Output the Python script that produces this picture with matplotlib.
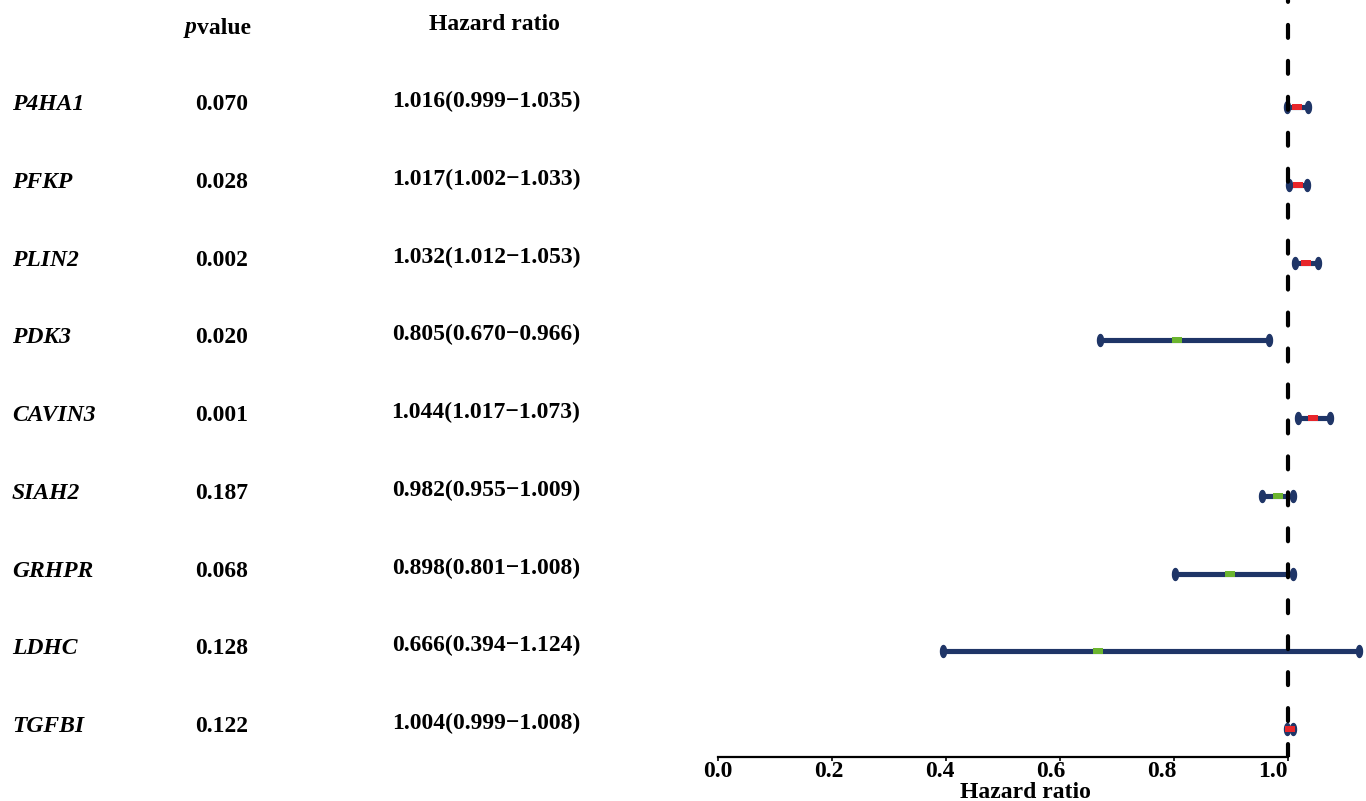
import numpy as np
import matplotlib
matplotlib.use("Agg")
import matplotlib.pyplot as plt
from matplotlib.path import Path
from matplotlib import transforms

plt.rcParams["font.family"] = ["Liberation Serif", "DejaVu Serif"]
plt.rcParams["font.weight"] = "bold"

# Univariate Cox results per gene
genes = ["P4HA1", "PFKP", "PLIN2", "PDK3", "CAVIN3", "SIAH2", "GRHPR", "LDHC", "TGFBI"]
pvalues = ["0.070", "0.028", "0.002", "0.020", "0.001", "0.187", "0.068", "0.128", "0.122"]
hr = [1.016, 1.017, 1.032, 0.805, 1.044, 0.982, 0.898, 0.666, 1.004]
hr_low = [0.999, 1.002, 1.012, 0.670, 1.017, 0.955, 0.801, 0.394, 0.999]
hr_high = [1.035, 1.033, 1.053, 0.966, 1.073, 1.009, 1.008, 1.124, 1.008]
xticks = [0.0, 0.2, 0.4, 0.6, 0.8, 1.0]

W, H = 1366, 801
fig = plt.figure(figsize=(W / 100, H / 100), dpi=100)

# axes geometry in pixels
ax_left_px, ax_right_px = 718, W
ax_top_px, ax_bottom_px = 0, 757
ax = fig.add_axes([ax_left_px / W, 1 - ax_bottom_px / H,
                   (ax_right_px - ax_left_px) / W, (ax_bottom_px - ax_top_px) / H])

px_per_unit = 570.0
ax.set_xlim(0, (ax_right_px - ax_left_px) / px_per_unit)
row_px = 77.75
first_row_px = 107
ax.set_ylim((ax_bottom_px - first_row_px) / row_px, (ax_top_px - first_row_px) / row_px)

navy = "#1f3567"
red = "#e8262b"
green = "#6cb52f"

# vertical capsule end cap and narrow rectangle point marker
theta = np.linspace(0, 2 * np.pi, 60)
cap_marker = Path(np.column_stack([0.5 * np.cos(theta), np.sin(theta)]), closed=True)
rect_marker = Path([(-1, -0.6), (1, -0.6), (1, 0.6), (-1, 0.6), (-1, -0.6)], closed=True)

y = np.arange(len(genes))
for i in range(len(genes)):
    ax.plot([hr_low[i], hr_high[i]], [y[i], y[i]], color=navy, lw=3.7,
            solid_capstyle="butt", zorder=2)
    ax.plot([hr_low[i], hr_high[i]], [y[i], y[i]], linestyle="none",
            marker=cap_marker, ms=8.6, color=navy, mec=navy, zorder=3)
    ax.plot([hr[i]], [y[i]], linestyle="none", marker=rect_marker, ms=6.5,
            color=red if hr[i] > 1 else green, mew=0, zorder=4)

ax.axvline(1.0, color="black", lw=3, linestyle=(0, (3.1, 5.53)),
           dash_capstyle="round", zorder=5)

for side in ["top", "right", "left"]:
    ax.spines[side].set_visible(False)
ax.spines["bottom"].set_linewidth(1.6)
ax.spines["bottom"].set_bounds(0, 1)
ax.set_yticks([])
ax.set_xticks(xticks)
ax.set_xticklabels([f"{t:.1f}" for t in xticks], fontsize=17, fontweight="bold")
ax.tick_params(axis="x", length=3, width=1.2, pad=0)

# tick labels sit on a slightly narrower spacing than the ticks themselves
label_spacing = 111.0 / 114.0
for t, lab in zip(xticks, ax.get_xticklabels()):
    dx_px = t * px_per_unit * (label_spacing - 1.0)
    lab.set_transform(lab.get_transform()
                      + transforms.ScaledTranslation(dx_px / 100, 0, fig.dpi_scale_trans))

ax.set_xlabel("Hazard ratio", fontsize=17, fontweight="bold")
ax.xaxis.set_label_coords((1025 - ax_left_px) / (ax_right_px - ax_left_px),
                          (ax_bottom_px - 792) / (ax_bottom_px - ax_top_px))
ax.xaxis.label.set_va("center")

# left-hand table: x in figure fraction, y in row coordinates
tr = transforms.blended_transform_factory(fig.transFigure, ax.transData)
fs = 17
for i, g in enumerate(genes):
    yy = y[i] - 0.03
    ax.text(12 / W, yy, g, transform=tr, ha="left", va="center", fontsize=fs,
            fontweight="bold", fontstyle="italic")
    ax.text(222 / W, yy, pvalues[i], transform=tr, ha="center", va="center",
            fontsize=fs, fontweight="bold")
    ax.text(486 / W, yy - 0.04,
            f"{hr[i]:.3f}({hr_low[i]:.3f}\u2212{hr_high[i]:.3f})",
            transform=tr, ha="center", va="center", fontsize=fs, fontweight="bold")

head_y = (28 - first_row_px) / row_px
ax.text(197 / W, head_y, "p", transform=tr, ha="right", va="center",
        fontsize=fs, fontweight="bold", fontstyle="italic")
ax.text(197 / W, head_y, "value", transform=tr, ha="left", va="center",
        fontsize=fs, fontweight="bold")
ax.text(494 / W, (24 - first_row_px) / row_px, "Hazard ratio", transform=tr,
        ha="center", va="center", fontsize=fs, fontweight="bold")

fig.savefig("out.png", dpi=100)
